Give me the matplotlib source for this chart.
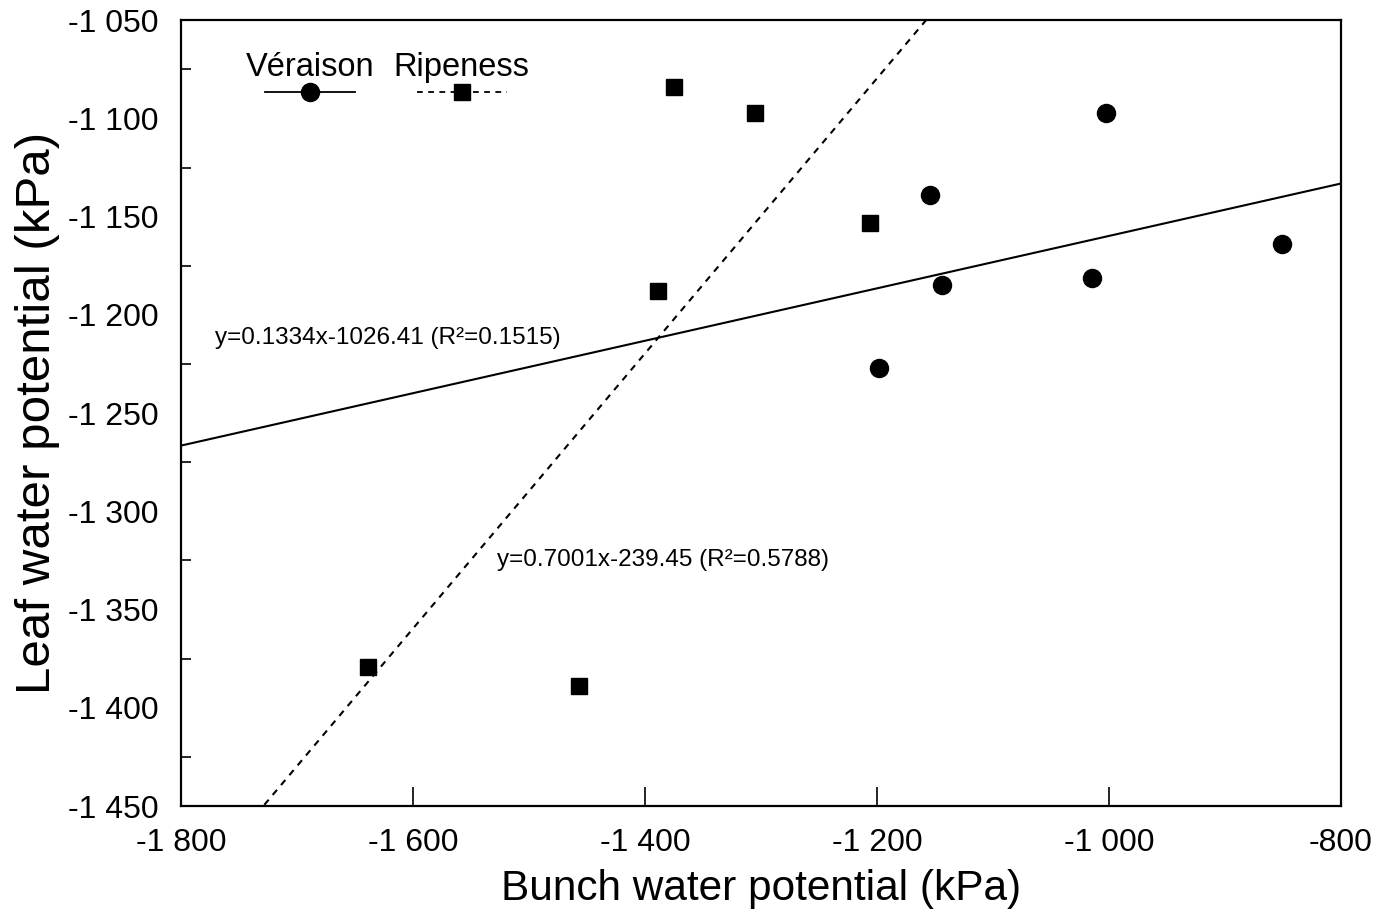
import matplotlib
matplotlib.use('Agg')
import matplotlib.pyplot as plt
import numpy as np
from matplotlib.ticker import MultipleLocator, FuncFormatter

plt.rcParams['font.family'] = ['Liberation Sans', 'DejaVu Sans']

# Véraison (circles)
verX = [-1003, -1154, -1144, -1015, -851, -1198]
verY = [-1097, -1139, -1185, -1181, -1164, -1227]

# Ripeness (squares)
ripX = [-1375, -1305, -1206, -1389, -1639, -1457]
ripY = [-1084, -1097, -1153, -1188, -1379, -1389]

# regression lines
verFit = (0.1334, -1026.41)
ripFit = (0.7001, -239.45)
verEq = 'y=0.1334x-1026.41 (R²=0.1515)'
ripEq = 'y=0.7001x-239.45 (R²=0.5788)'

xlim = (-1800, -800)
ylim = (-1450, -1050)


def fmt(v, pos):
    return f'{v:,.0f}'.replace(',', ' ')


fig = plt.figure(figsize=(13.93, 9.17), dpi=100)
ax = fig.add_axes([0.130, 0.121, 0.8327, 0.857])

xx = np.array(xlim, dtype=float)
ax.plot(xx, verFit[0] * xx + verFit[1], color='black', lw=1.5)
ax.plot(xx, ripFit[0] * xx + ripFit[1], color='black', lw=1.5,
        linestyle=(0, (3.2, 3)))

ax.plot(verX, verY, 'o', color='black', ms=13, clip_on=False)
ax.plot(ripX, ripY, 's', color='black', ms=12, clip_on=False)

ax.text(-1771, -1212, verEq, fontsize=17.5, va='center', ha='left')
ax.text(-1528, -1325, ripEq, fontsize=17.5, va='center', ha='left')

# legend: label above the key
for cx, lab, ls, mk, ms in [(0.111, 'Véraison', '-', 'o', 13),
                            (0.242, 'Ripeness', (0, (3.2, 3)), 's', 12)]:
    ax.plot([cx - 0.039, cx + 0.039], [0.908, 0.908], color='black', lw=1.3,
            linestyle=ls, transform=ax.transAxes)
    ax.plot([cx], [0.908], marker=mk, color='black', ms=ms,
            transform=ax.transAxes)
    ax.text(cx, 0.94, lab, fontsize=23.5, ha='center', va='center',
            transform=ax.transAxes)

ax.set_xlim(xlim)
ax.set_ylim(ylim)
ax.xaxis.set_major_locator(MultipleLocator(200))
ax.yaxis.set_major_locator(MultipleLocator(50))
ax.yaxis.set_minor_locator(MultipleLocator(25))
ax.xaxis.set_major_formatter(FuncFormatter(fmt))
ax.yaxis.set_major_formatter(FuncFormatter(fmt))

ax.tick_params(axis='x', which='major', direction='in', length=14, width=1.2,
               labelsize=23, pad=16)
ax.tick_params(axis='y', which='major', direction='in', length=0,
               labelsize=23, pad=16)
ax.tick_params(axis='y', which='minor', direction='in', length=7, width=1.2)

for s in ax.spines.values():
    s.set_linewidth(1.6)

ax.set_xlabel('Bunch water potential (kPa)', fontsize=30.5, labelpad=8)
ax.set_ylabel('Leaf water potential (kPa)', fontsize=35.5, labelpad=6)

fig.savefig('out.png', dpi=100)
